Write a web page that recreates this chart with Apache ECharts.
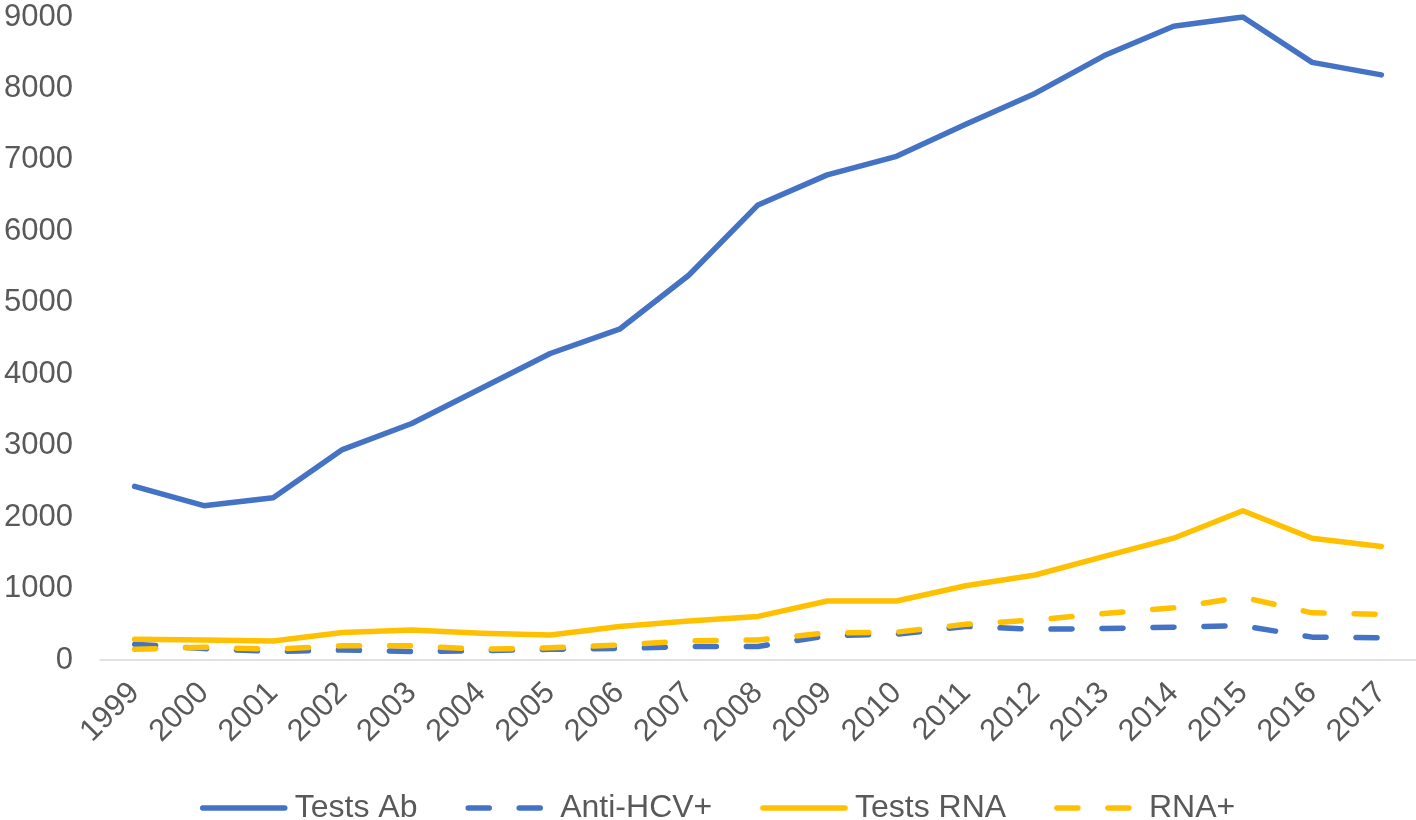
<!DOCTYPE html>
<html>
<head>
<meta charset="utf-8">
<script src="https://cdn.jsdelivr.net/npm/echarts@6/dist/echarts.min.js"></script>
<style>
html,body{margin:0;padding:0;background:#fff;}
#chart{width:1416px;height:820px;}
</style>
</head>
<body>
<div id="chart"></div>
<script>
const years = ['1999','2000','2001','2002','2003','2004','2005','2006','2007','2008','2009','2010','2011','2012','2013','2014','2015','2016','2017'];
const testsAb = [2430,2160,2270,2945,3310,3800,4290,4630,5385,6370,6790,7050,7500,7930,8460,8870,9000,8365,8190];
const antiHCV = [220,160,120,140,120,130,150,160,190,190,340,360,470,430,440,460,480,320,310];
const testsRNA = [290,280,265,385,420,375,350,470,545,610,825,825,1040,1190,1450,1705,2090,1705,1590];
const rnaPos = [150,180,150,200,200,150,170,210,270,280,380,390,500,560,650,730,880,660,640];
const yTicks = {min:0, max:9000, interval:1000};

const BLUE = '#4472C4', GOLD = '#FFC000', TXT = '#595959';
const FONT = 'Liberation Sans, Arial, sans-serif';
const chart = echarts.init(document.getElementById('chart'), null, {renderer:'canvas'});
function mk(name, data, color, dashed){
  return {
    name, type:'line', data, showSymbol:false, symbol:'none', smooth:false,
    lineStyle:{color, width:5.5, type: dashed ? [21,30] : 'solid', cap:'round', join:'round'},
    itemStyle:{color},
    emphasis:{disabled:true}
  };
}
chart.setOption({
  animation:false,
  backgroundColor:'#fff',
  grid:{left:100, right:0, top:17, bottom:160, containLabel:false},
  xAxis:{
    type:'category', data:years, boundaryGap:true,
    axisLine:{show:true, lineStyle:{color:'#D9D9D9', width:1.5}},
    axisTick:{show:false},
    axisLabel:{rotate:45, fontSize:31, color:TXT, fontFamily:FONT, margin:28, interval:0}
  },
  yAxis:{
    type:'value', min:yTicks.min, max:yTicks.max, interval:yTicks.interval,
    splitLine:{show:false}, axisLine:{show:false}, axisTick:{show:false},
    axisLabel:{fontSize:31, color:TXT, fontFamily:FONT, margin:27, formatter:(v)=>String(v)}
  },
  legend:{
    top:787, left:195, itemWidth:82, itemHeight:14, itemGap:48,
    itemStyle:{color:'rgba(0,0,0,0)', borderWidth:0, opacity:0},
    lineStyle:{width:5.5, cap:'round'},
    textStyle:{fontSize:32, color:TXT, fontFamily:FONT, padding:[0,0,0,5]},
    data:['Tests Ab','Anti-HCV+','Tests RNA','RNA+']
  },
  series:[
    mk('Tests Ab', testsAb, BLUE, false),
    mk('Anti-HCV+', antiHCV, BLUE, true),
    mk('Tests RNA', testsRNA, GOLD, false),
    mk('RNA+', rnaPos, GOLD, true)
  ]
});
</script>
</body>
</html>
